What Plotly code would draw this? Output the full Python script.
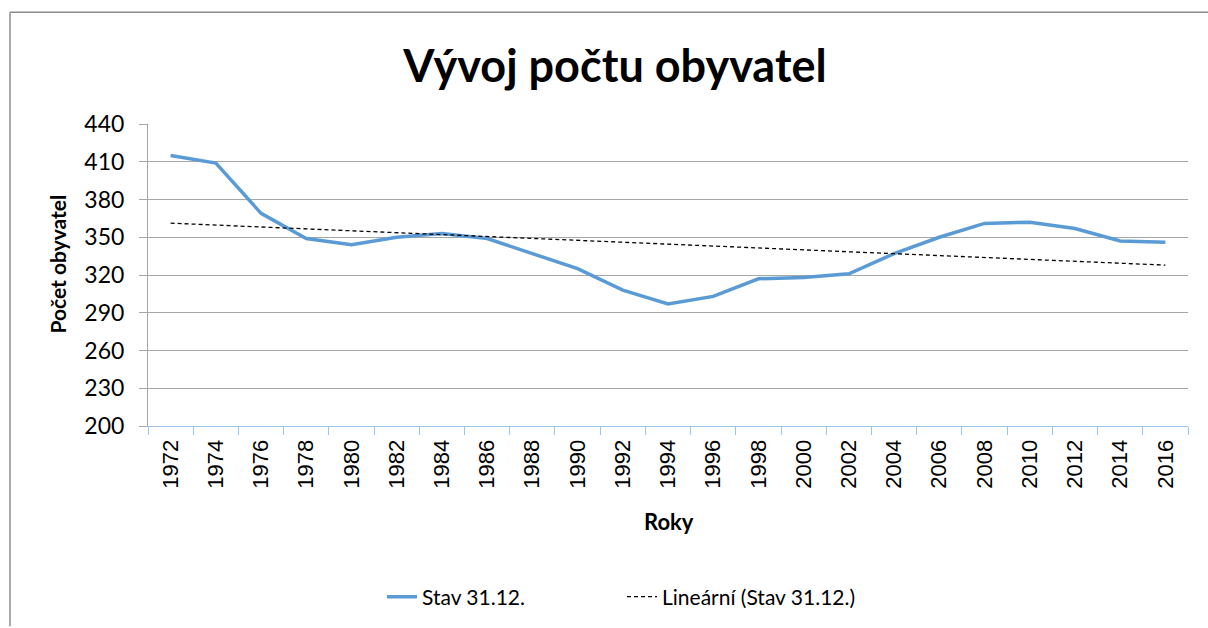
import numpy as np
import plotly.graph_objects as go

years = [str(y) for y in range(1972, 2017, 2)]
population = [415, 409, 369, 349, 344, 350, 353, 349, 337, 325, 308, 297,
              303, 317, 318, 321, 337, 350, 361, 362, 357, 347, 346]
y_ticks = [200, 230, 260, 290, 320, 350, 380, 410, 440]

idx = np.arange(len(years))
coef = np.polyfit(idx, population, 1)
trend = np.polyval(coef, idx)

fig = go.Figure()
fig.add_trace(go.Scatter(
    x=years, y=population, mode="lines", name="Stav 31.12.",
    line=dict(color="#5B9BD5", width=3.5)))
fig.add_trace(go.Scatter(
    x=years, y=trend, mode="lines", name="Lineární (Stav 31.12.)",
    line=dict(color="#000000", width=1.3, dash="4px,3px")))

L, R, T, B = 148, 20, 124, 201
W, H = 1208, 628
pw, ph = W - L - R, H - T - B

def px(x):
    return (x - L) / pw

def py(y):
    return (H - B - y) / ph

fig.update_layout(
    width=W, height=H,
    margin=dict(l=L, r=R, t=T, b=B),
    paper_bgcolor="white", plot_bgcolor="white",
    title=dict(text="<b>Vývoj počtu obyvatel</b>", x=px(615), xanchor="center",
               xref="paper", y=1 - 66 / H, yanchor="middle", yref="container",
               font=dict(family="Lato", size=45, color="#000000")),
    showlegend=True,
    legend=dict(orientation="h", x=px(382), xanchor="left", y=py(597),
                yanchor="middle", font=dict(family="Lato", size=21, color="#000000"),
                entrywidth=195, entrywidthmode="pixels",
                bgcolor="rgba(0,0,0,0)"),
    xaxis=dict(type="category", tickangle=-90, tickson="boundaries",
               showgrid=False, showline=True, linecolor="#9DC3E6", linewidth=1,
               ticks="outside", ticklen=8, tickcolor="#9DC3E6", tickwidth=1,
               tickfont=dict(family="Liberation Sans", size=22, color="#000000"),
               ticklabelstandoff=4,
               range=[-0.5, len(years) - 0.5], zeroline=False),
    yaxis=dict(range=[200, 440], tickvals=y_ticks, showgrid=True,
               gridcolor="#A6A6A6", gridwidth=1, showline=True,
               linecolor="#A6A6A6", linewidth=1, ticks="outside", ticklen=8,
               tickcolor="#A6A6A6", ticklabelstandoff=10,
               tickfont=dict(family="Lato", size=23, color="#000000"),
               zeroline=False),
    annotations=[
        dict(text="<b>Počet obyvatel</b>", xref="paper", yref="paper",
             x=px(58), y=py(265), textangle=-90, showarrow=False,
             xanchor="center", yanchor="middle",
             font=dict(family="Lato", size=21, color="#000000")),
        dict(text="<b>Roky</b>", xref="paper", yref="paper",
             x=px(669), y=py(523), showarrow=False,
             xanchor="center", yanchor="middle",
             font=dict(family="Lato", size=22, color="#000000")),
    ],
    shapes=[
        dict(type="line", xref="paper", yref="paper", x0=px(10), x1=px(1208),
             y0=py(12), y1=py(12), line=dict(color="#8C8C8C", width=1.5)),
        dict(type="line", xref="paper", yref="paper", x0=px(10), x1=px(10),
             y0=py(12), y1=py(628), line=dict(color="#8C8C8C", width=1.5)),
    ],
)

fig.write_html(
    "out.html",
    config={"displayModeBar": False},
    post_script="document.body.style.margin='0';document.body.style.padding='0';"
                "document.body.style.overflow='hidden';"
                "document.documentElement.style.overflow='hidden';",
)
